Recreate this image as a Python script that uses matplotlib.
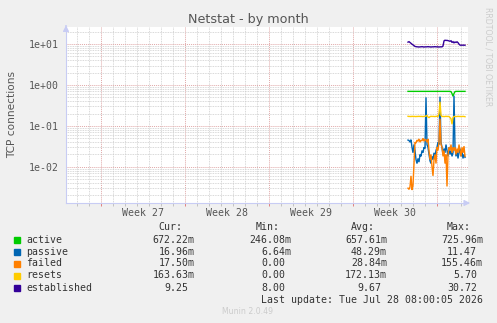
import numpy as np
import matplotlib
matplotlib.use("Agg")
import matplotlib.pyplot as plt
from matplotlib.transforms import blended_transform_factory

# ---------------- data ----------------
week_labels = ["Week 27", "Week 28", "Week 29", "Week 30"]
week_starts = [2.92, 9.92, 16.92, 23.92, 30.92]   # days from left edge of graph
data_start = 28.5          # day of first sample
step = 1.0 / 12.0          # 2-hour samples

active = [0.70] * 43 + [0.69, 0.62, 0.53, 0.62, 0.69] + [0.70] * 10

passive = [0.045, 0.044, 0.040, 0.046, 0.030, 0.022, 0.035, 0.025, 0.015, 0.012,
           0.016, 0.013, 0.020, 0.018, 0.025, 0.022, 0.030, 0.028, 0.50, 0.035,
           0.030, 0.020, 0.014, 0.012, 0.018, 0.015, 0.022, 0.018, 0.025, 0.030,
           0.040, 0.035, 0.52, 0.040, 0.030, 0.020, 0.028, 0.022, 0.035, 0.025,
           0.018, 0.030, 0.020, 0.025, 0.018, 0.022, 0.55, 0.030, 0.018, 0.025,
           0.016, 0.022, 0.028, 0.018, 0.024, 0.016, 0.020, 0.017]

failed = [0.0030, 0.0028, 0.0032, 0.0060, 0.0027, 0.0035, 0.012, 0.040, 0.038, 0.045,
          0.042, 0.048, 0.040, 0.045, 0.043, 0.050, 0.042, 0.047, 0.045, 0.040,
          0.048, 0.025, 0.015, 0.020, 0.010, 0.006, 0.015, 0.020, 0.012, 0.030,
          0.025, 0.040, 0.150, 0.035, 0.030, 0.018, 0.025, 0.012, 0.020, 0.0033,
          0.020, 0.030, 0.025, 0.035, 0.022, 0.030, 0.025, 0.030, 0.020, 0.028,
          0.022, 0.035, 0.025, 0.018, 0.030, 0.022, 0.032, 0.018]

resets = [0.172, 0.170, 0.171, 0.169, 0.172, 0.170, 0.171, 0.170, 0.169, 0.171,
          0.170, 0.172, 0.170, 0.171, 0.170, 0.169, 0.171, 0.172, 0.175, 0.180,
          0.165, 0.160, 0.168, 0.172, 0.170, 0.171, 0.170, 0.169, 0.171, 0.172,
          0.170, 0.200, 0.390, 0.180, 0.170, 0.171, 0.169, 0.170, 0.172, 0.170,
          0.171, 0.170, 0.160, 0.150, 0.110, 0.160, 0.170, 0.171, 0.169, 0.170,
          0.172, 0.170, 0.171, 0.169, 0.170, 0.171, 0.170, 0.168]

established = [11.2, 11.5, 11.0, 10.5, 10.0, 9.6, 9.2, 8.8, 8.7, 8.6,
               8.6, 8.5, 8.6, 8.6, 8.7, 8.6, 8.5, 8.6, 8.6, 8.6,
               8.7, 8.6, 8.6, 8.5, 8.6, 8.6, 8.6, 8.7, 8.6, 8.6,
               8.6, 8.5, 8.6, 8.6, 8.6, 9.0, 12.0, 12.5, 12.3, 12.4,
               12.2, 12.0, 11.8, 12.1, 11.0, 11.5, 10.8, 11.3, 11.0, 11.4,
               10.9, 10.0, 9.5, 9.4, 9.5, 9.4, 9.5, 9.4]

series_names = ["active", "passive", "failed", "resets", "established"]
series_colors = ["#00CC00", "#0066B3", "#FF8000", "#FFCC00", "#330099"]
cur_vals = ["672.22m", "16.96m", "17.50m", "163.63m", "9.25"]
min_vals = ["246.08m", "6.64m", "0.00", "0.00", "8.00"]
avg_vals = ["657.61m", "48.29m", "28.84m", "172.13m", "9.67"]
max_vals = ["725.96m", "11.47", "155.46m", "5.70", "30.72"]
col_headers = ["Cur:", "Min:", "Avg:", "Max:"]
yticks = [1e-2, 1e-1, 1e0, 1e1]
ytick_labels = ["1e-02", "1e-01", "1e+00", "1e+01"]

# ---------------- figure ----------------
W, H = 497, 323
fig = plt.figure(figsize=(W / 100, H / 100), dpi=100, facecolor="#F0F0F0")
L, R, T, B = 66, 468, 27, 203
ax = fig.add_axes([L / W, 1 - B / H, (R - L) / W, (B - T) / H])
ax.set_facecolor("white")

x = data_start + step * np.arange(len(active))
all_series = [active, passive, failed, resets, established]
for vals, c in zip(all_series, series_colors):
    ax.plot(x, vals, color=c, lw=1.0, solid_joinstyle="miter")

ax.set_yscale("log")
ax.set_ylim(1.30e-3, 26.3)
ax.set_xlim(0, (R - L) / 12.0)

ax.set_yticks(yticks)
ax.set_yticklabels(ytick_labels)
ax.set_xticks(week_starts)
ax.set_xticklabels([])
ax.set_xticks(np.arange(week_starts[0] - 2, (R - L) / 12.0, 1.0), minor=True)

ax.grid(which="minor", axis="both", color="#cccccc", ls=(0, (1, 1)), lw=0.6)
ax.grid(which="major", axis="both", color="#e0a8a8", ls=(0, (1, 1)), lw=0.7)
ax.set_axisbelow(True)

for s in ["top", "right"]:
    ax.spines[s].set_visible(False)
for s in ["left", "bottom"]:
    ax.spines[s].set_color("#c8ccf4")
    ax.spines[s].set_linewidth(0.8)

mono = "DejaVu Sans Mono"
ax.tick_params(axis="y", which="both", length=0, labelsize=7.1, labelcolor="#555555", pad=5)
for lab in ax.get_yticklabels():
    lab.set_family(mono)
ax.tick_params(axis="x", which="major", length=2, color="#e08080", width=0.7)
ax.tick_params(axis="x", which="minor", length=2, color="#bbbbbb", width=0.6)

trans = blended_transform_factory(ax.transData, fig.transFigure)
for i, lab in enumerate(week_labels):
    ax.text(week_starts[i] + 3.5, 1 - 213 / H, lab, transform=trans, ha="center",
            va="center", family=mono, fontsize=7.1, color="#555555")

# axis arrows
ax.annotate("", xy=(0, 1.025), xytext=(0, 0.99), xycoords="axes fraction",
            arrowprops=dict(arrowstyle="-|>,head_length=0.35,head_width=0.18",
                            color="#c8ccf4", lw=0.8), annotation_clip=False)
ax.annotate("", xy=(1.012, 0), xytext=(0.99, 0), xycoords="axes fraction",
            arrowprops=dict(arrowstyle="-|>,head_length=0.35,head_width=0.18",
                            color="#c8ccf4", lw=0.8), annotation_clip=False)

def ftext(px, py, s, **kw):
    fig.text(px / W, 1 - py / H, s, **kw)

ftext(248, 20, "Netstat - by month", ha="center", va="center", fontsize=9.2,
      color="#555555")
ftext(12, 115, "TCP connections", ha="center", va="center", rotation=90,
      fontsize=7.6, color="#555555")
ftext(488, 57, "RRDTOOL / TOBI OETIKER", ha="center", va="center", rotation=270,
      fontsize=5.6, color="#cccccc")

cw = 5.95
col_edges = [194.3, 291.3, 387.0, 483.0]
for j, h in enumerate(col_headers):
    ftext(col_edges[j] - 2 * cw, 227.3, h, ha="right", va="center", family=mono,
          fontsize=7.1, color="#333333")

row_y = [239.7, 251.7, 263.5, 275.5, 287.7]
for i, name in enumerate(series_names):
    fig.patches.append(plt.Rectangle(((14) / W, 1 - (row_y[i] + 3) / H), 6 / W, 6 / H,
                                     transform=fig.transFigure, color=series_colors[i]))
    ftext(26.3, row_y[i], name, ha="left", va="center", family=mono, fontsize=7.1,
          color="#333333")
    for j, vals in enumerate([cur_vals, min_vals, avg_vals, max_vals]):
        v = vals[i]
        edge = col_edges[j] if v.endswith("m") else col_edges[j] - cw
        ftext(edge, row_y[i], v, ha="right", va="center", family=mono, fontsize=7.1,
              color="#333333")

ftext(483, 299.7, "Last update: Tue Jul 28 08:00:05 2026", ha="right", va="center",
      family=mono, fontsize=7.1, color="#333333")
ftext(248, 312, "Munin 2.0.49", ha="center", va="center", fontsize=5.6,
      color="#cccccc")

fig.savefig("out.png", dpi=100, facecolor=fig.get_facecolor())
